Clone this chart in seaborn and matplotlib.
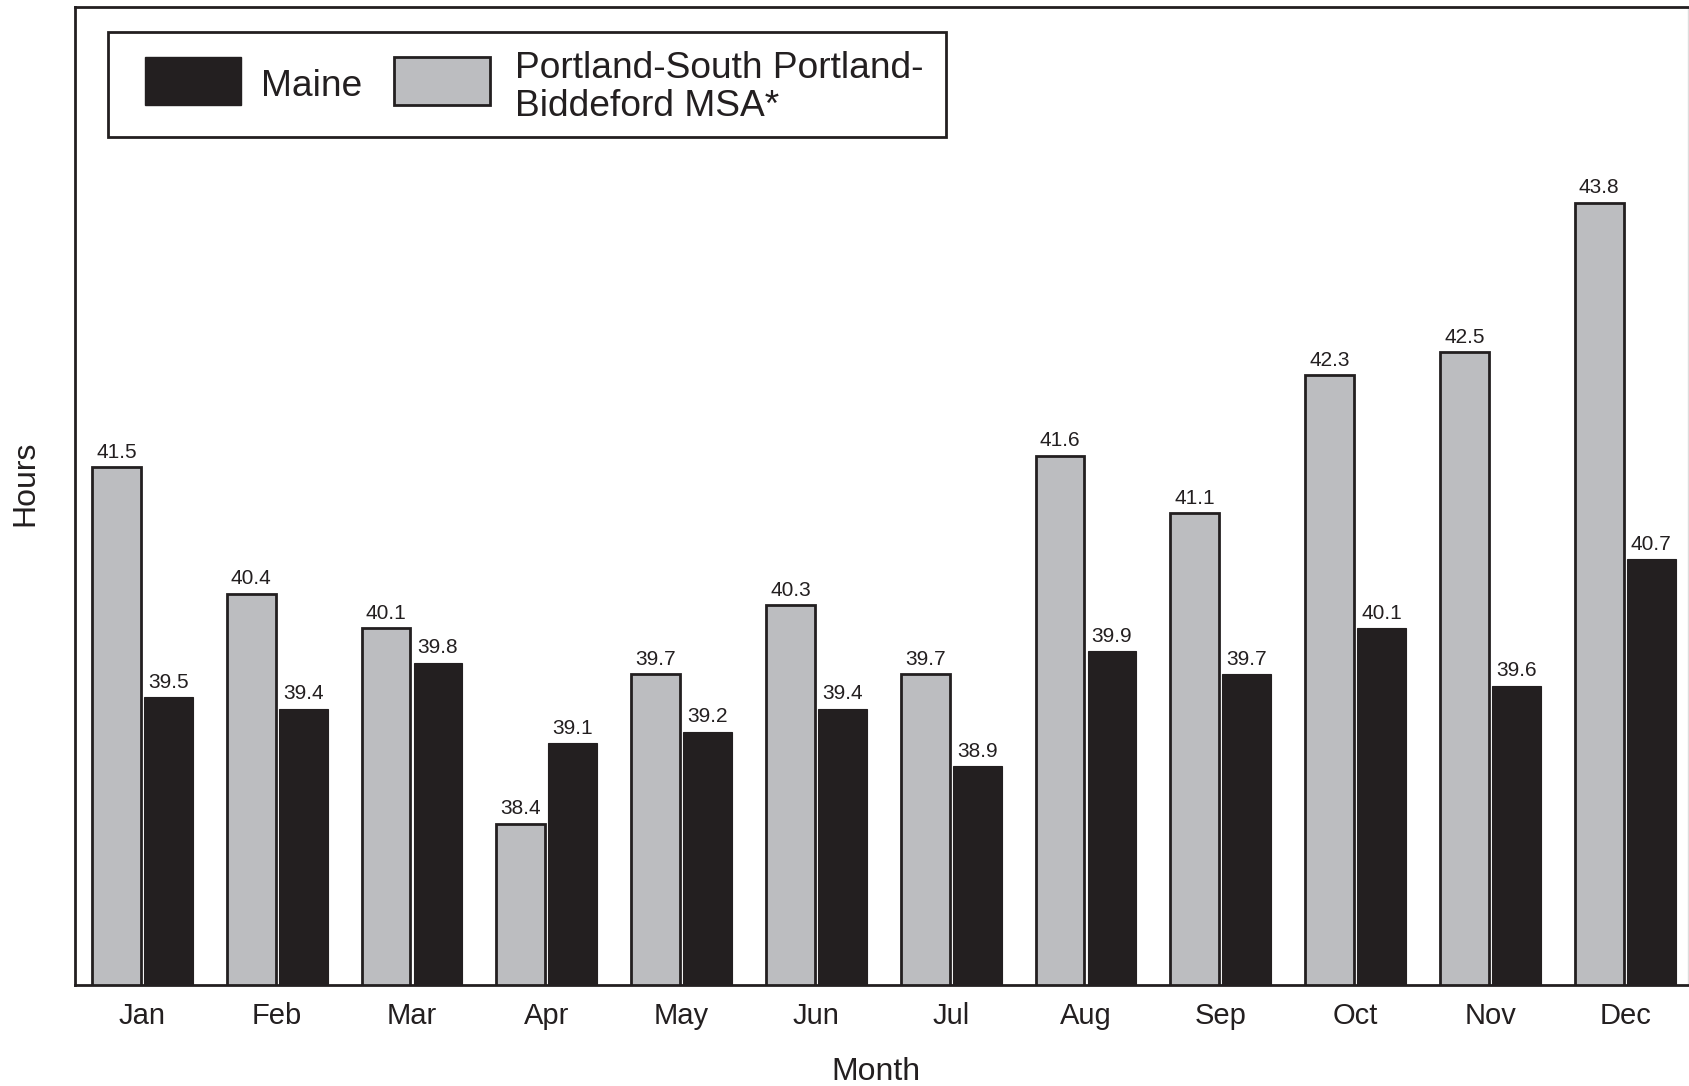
import matplotlib
matplotlib.use("Agg")
import matplotlib.pyplot as plt
import seaborn as sns
import pandas as pd
from matplotlib.patches import Patch, Rectangle
from matplotlib.legend_handler import HandlerPatch

months = ["Jan", "Feb", "Mar", "Apr", "May", "Jun", "Jul", "Aug", "Sep", "Oct", "Nov", "Dec"]
portland = [41.5, 40.4, 40.1, 38.4, 39.7, 40.3, 39.7, 41.6, 41.1, 42.3, 42.5, 43.8]
maine = [39.5, 39.4, 39.8, 39.1, 39.2, 39.4, 38.9, 39.9, 39.7, 40.1, 39.6, 40.7]
series_names = ["Portland-South Portland-\nBiddeford MSA*", "Maine"]

GRAY = "#BCBDC0"
DARK = "#231F20"

df = pd.DataFrame({
    "Month": months * 2,
    "Hours": portland + maine,
    "Area": [series_names[0]] * len(months) + [series_names[1]] * len(months),
})

sns.set_theme(style="white")
plt.rcParams["font.family"] = ["Liberation Sans", "DejaVu Sans"]
plt.rcParams["text.color"] = DARK

W, H = 1690, 1086
fig = plt.figure(figsize=(W / 100, H / 100), dpi=100)
ax = fig.add_axes([75 / W, (H - 985) / H, (1688 - 75) / W, (985 - 7) / H])

sns.barplot(data=df, x="Month", y="Hours", hue="Area", hue_order=series_names,
            order=months, palette=[GRAY, DARK], width=0.77, gap=0.06,
            ax=ax, legend=False, saturation=1)

for cont, ec, lw in zip(ax.containers, [DARK, DARK], [2.0, 0.8]):
    for bar in cont:
        bar.set_edgecolor(ec)
        bar.set_linewidth(lw)
    ax.bar_label(cont, fmt="%.1f", padding=4, fontsize=15, color=DARK)

ax.set_ylim(37.0, 45.5)
ax.set_xlim(-0.5, 11.466)
ax.set_yticks([])
ax.tick_params(axis="x", length=0, pad=12, labelsize=21, colors=DARK)
ax.set_xlabel("Month", fontsize=23, color=DARK)
ax.set_ylabel("Hours", fontsize=23, color=DARK)
ax.xaxis.set_label_coords(0.4966, -0.0736)
ax.yaxis.set_label_coords(-0.0217, 0.513)

for side in ["left", "bottom", "top"]:
    ax.spines[side].set_color(DARK)
    ax.spines[side].set_linewidth(2)
ax.spines["right"].set_color("#DDDDDD")
ax.spines["right"].set_linewidth(1)


def shifted_patch(shift_pt):
    def make(legend, orig_handle, xdescent, ydescent, width, height, fontsize):
        return Rectangle((-xdescent, -ydescent + shift_pt), width, height)
    return HandlerPatch(patch_func=make)


common = dict(loc="upper left", fontsize=26.7, frameon=False,
              handlelength=2.6, handleheight=1.62,
              borderpad=0, borderaxespad=0)

h_maine = Patch(facecolor=DARK, edgecolor=DARK, linewidth=1)
h_port = Patch(facecolor=GRAY, edgecolor=DARK, linewidth=2)

leg1 = fig.legend([h_maine], ["Maine"], bbox_to_anchor=(145 / W, 1 - 60.2 / H),
                  handler_map={Patch: shifted_patch(2.3)}, handletextpad=0.52, **common)
leg2 = fig.legend([h_port], [series_names[0]], bbox_to_anchor=(394 / W, 1 - 50.5 / H),
                  handler_map={Patch: shifted_patch(5.6)}, handletextpad=0.67, **common)
for leg in (leg1, leg2):
    for t in leg.get_texts():
        t.set_color(DARK)
        t.set_linespacing(1.13)

fig.patches.append(Rectangle((108 / W, 1 - 137 / H), (946 - 108) / W, (137 - 32) / H,
                             transform=fig.transFigure, fill=False,
                             edgecolor=DARK, linewidth=2, zorder=5))

fig.savefig("out.png", dpi=100)
